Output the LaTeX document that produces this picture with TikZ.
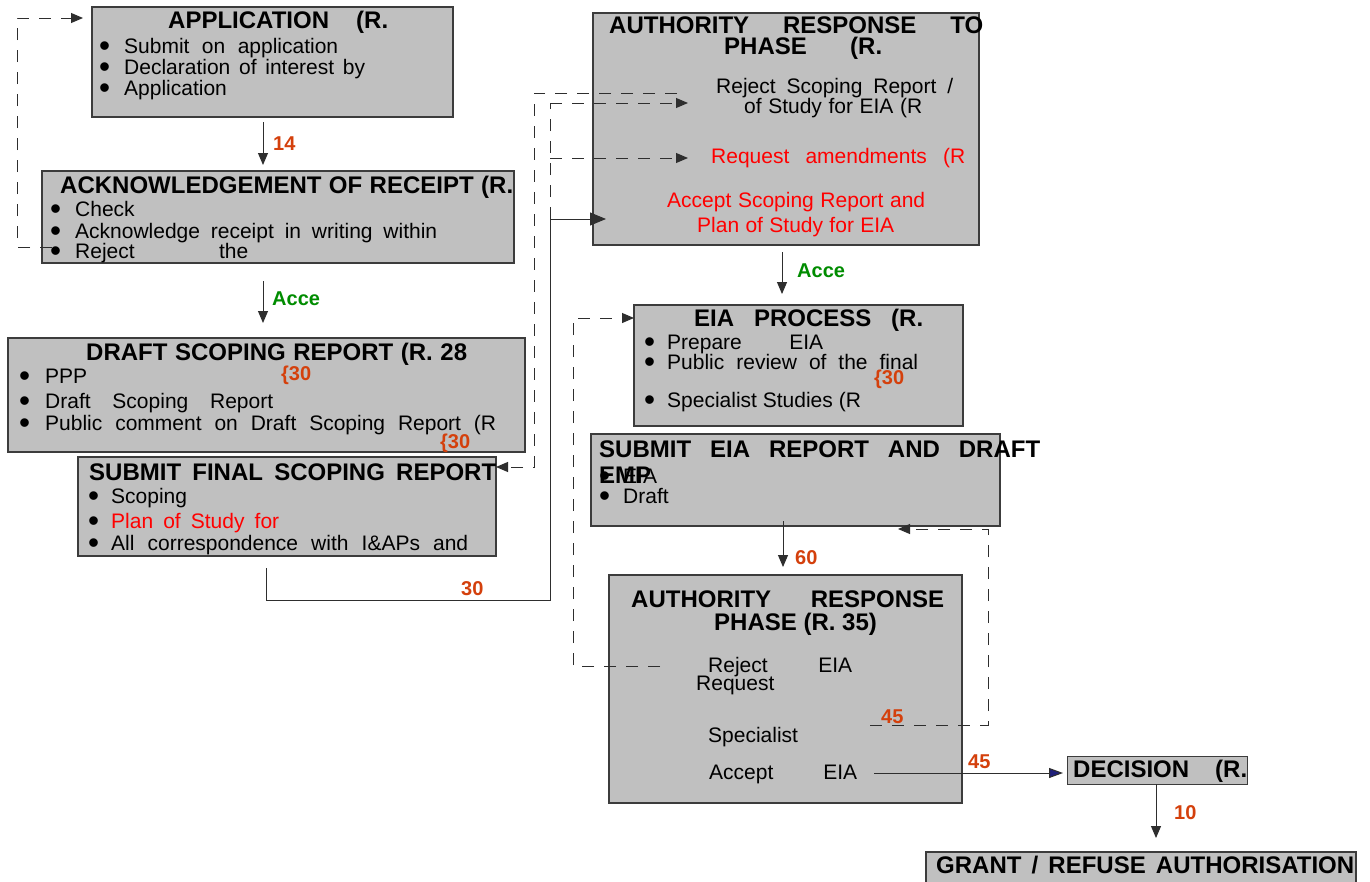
\documentclass[tikz,border=0pt]{standalone}
\usepackage{fontspec}
\usepackage{graphicx}
\setmainfont{Liberation Sans}
\usetikzlibrary{arrows.meta}
\definecolor{boxfill}{HTML}{C0C0C0}
\definecolor{boxline}{HTML}{3C3C3C}
\definecolor{lineclr}{HTML}{2E2E2E}
\definecolor{numclr}{HTML}{D4400C}
\definecolor{grnclr}{HTML}{008C00}
\definecolor{navyclr}{HTML}{1F1F7A}
\definecolor{redclr}{HTML}{FF0000}
\newcommand\jline[2]{\makebox[#1pt][s]{#2}}
\newcommand\bigbul{\raisebox{-3.5pt}{\scalebox{1.5}{\textbullet}}}
\begin{document}
\begin{tikzpicture}[x=1pt,y=-1pt,
  box/.style={draw=boxline, line width=1.4pt, fill=boxfill, inner sep=0pt, outer sep=0pt, anchor=north west},
  ttl/.style={font=\fontsize{24}{26}\selectfont\bfseries, inner sep=0pt, anchor=base west},
  bd/.style={font=\fontsize{21}{21}\selectfont, inner sep=0pt, anchor=base west},
  rd/.style={bd, text=redclr},
  lbl/.style={font=\fontsize{20}{20}\selectfont\bfseries, text=numclr, inner sep=0pt, anchor=base west},
  acc/.style={lbl, text=grnclr},
  conn/.style={draw=lineclr, line width=1pt},
  arr/.style={conn, -{Triangle[length=12pt,width=10pt]}},
  arrbig/.style={conn, -{Triangle[length=16pt,width=13pt]}},
  dsh/.style={conn, dash pattern=on 12pt off 10pt},
  darr/.style={dsh, -{Triangle[length=12pt,width=10pt]}},
]
\useasboundingbox (0,0) rectangle (1370,881);
\fill[white] (0,0) rectangle (1370,881);

% ---------- boxes ----------
\node[box, minimum width=361pt, minimum height=110pt] (app) at (92,7) {};
\node[box, minimum width=472pt, minimum height=92pt] (ack) at (42,171) {};
\node[box, minimum width=517pt, minimum height=114pt] (draft) at (8,338) {};
\node[box, minimum width=418pt, minimum height=99pt] (sfs) at (78,457) {};
\node[box, minimum width=386pt, minimum height=232pt] (ato) at (593,13) {};
\node[box, minimum width=329pt, minimum height=121pt] (eia) at (634,305) {};
\node[box, minimum width=409pt, minimum height=92pt] (sea) at (591,434) {};
\node[box, minimum width=353pt, minimum height=228pt] (arp) at (609,575) {};
\node[box, line width=1pt, minimum width=180pt, minimum height=28pt] (dec) at (1067,756) {};
\node[box, minimum width=430pt, minimum height=40pt] (grant) at (926,852) {};

% ---------- connectors ----------
\draw[arr] ([xshift=-9.5pt,yshift=-5pt]app.south) -- ([xshift=-15pt,yshift=6pt]ack.north);
\draw[arr] ([xshift=-15pt,yshift=-18pt]ack.south) -- ([xshift=-3.5pt,yshift=15pt]draft.north);
\draw[darr] ([xshift=10pt,yshift=-30pt]ack.west) -- ++(-35,0) |- ([xshift=-9pt,yshift=44pt]app.west);

\coordinate (ain) at ([xshift=13pt,yshift=-90pt]ato.west);
\draw[arrbig] ([xshift=-21pt,yshift=-12pt]sfs.south) -- ++(0,32) -- ++(284,0) coordinate (jb)
   -- (jb |- ain) coordinate (jc) -- (ain);
\draw[dsh] (jc) -- ++(0,-116) coordinate (jd);
\draw[darr] (jd) -- ++(138,0);
\draw[darr] ([yshift=-55pt]jd) -- ++(138,0);
\draw[darr] ([xshift=84pt,yshift=-80pt]ato.north west) -- ++(-143,0) |- ([yshift=39.5pt]sfs.east);

\draw[arr] ([xshift=-4pt,yshift=-7pt]ato.south) -- ([xshift=-16.5pt,yshift=11pt]eia.north);
\draw[darr] ([xshift=51pt,yshift=23pt]arp.west) -- ++(-87,0) |- ([yshift=47.5pt]eia.west);
\draw[arr] ([xshift=-12.5pt,yshift=5pt]sea.south) -- ([xshift=-2.5pt,yshift=8pt]arp.north);
\draw[darr] ([xshift=-92pt,yshift=-36pt]arp.east) -- ++(118,0) |- ([xshift=-102pt,yshift=-3pt]sea.south east);
\draw[conn, -{Triangle[length=14pt,width=10pt,fill=navyclr]}] ([xshift=-88pt,yshift=-84pt]arp.east) -- ([xshift=-4pt,yshift=-3pt]dec.west);
\draw[arr] ([xshift=-1pt]dec.south) -- ([xshift=15pt,yshift=14pt]grant.north);

% ---------- texts: APPLICATION ----------
\node[ttl] (tapp) at (168,28) {\jline{220}{APPLICATION (R.}};
\node[bd] (bapp1) at (99,53) {\bigbul};
\node[bd] (bapp2) at (99,74) {\bigbul};
\node[bd] (bapp3) at (99,95) {\bigbul};
\node[bd] (tapp1) at (124,53) {\jline{214}{Submit on application}};
\node[bd] (tapp2) at (124,74) {\jline{241}{Declaration of interest by}};
\node[bd] (tapp3) at (124,95) {Application};

% ACK
\node[ttl] (tack) at (60,193) {\jline{453}{ACKNOWLEDGEMENT OF RECEIPT (R.}};
\node[bd] (back1) at (50,216) {\bigbul};
\node[bd] (back2) at (50,238) {\bigbul};
\node[bd] (back3) at (50,258) {\bigbul};
\node[bd] (tack1) at (75,216) {Check};
\node[bd] (tack2) at (75,238) {\jline{362}{Acknowledge receipt in writing within}};
\node[bd] (tack3) at (75,258) {\jline{173}{Reject the}};

% DRAFT
\node[ttl] (tdr) at (86,360) {\jline{381}{DRAFT SCOPING REPORT (R. 28}};
\node[bd] (bdr1) at (19,383) {\bigbul};
\node[bd] (bdr2) at (19,408) {\bigbul};
\node[bd] (bdr3) at (19,430) {\bigbul};
\node[bd] (tdr1) at (45,383) {PPP};
\node[bd] (tdr2) at (45,408) {\jline{228}{Draft Scoping Report}};
\node[bd] (tdr3) at (45,430) {\jline{451}{Public comment on Draft Scoping Report (R}};
\node[lbl] (l30a) at (281,380) {\{30};
\node[lbl] (l30b) at (440,448) {\{30};

% SUBMIT FINAL
\node[ttl] (tsf) at (89,480) {\jline{407}{SUBMIT FINAL SCOPING REPORT}};
\node[bd] (bsf1) at (88,503) {\bigbul};
\node[bd] (bsf2) at (88,528) {\bigbul};
\node[bd] (bsf3) at (88,550) {\bigbul};
\node[bd] (tsf1) at (111,503) {Scoping};
\node[rd] (tsf2) at (111,528) {\jline{168}{Plan of Study for}};
\node[bd] (tsf3) at (111,550) {\jline{357}{All correspondence with I\&APs and}};
\node[lbl] (l30c) at (461,595) {30};

% AUTHORITY RESPONSE TO PHASE
\node[ttl] (tato1) at (609,33) {\jline{374}{AUTHORITY RESPONSE TO}};
\node[ttl] (tato2) at (724,54) {\jline{158}{PHASE (R.}};
\node[bd] (tato3) at (716,93) {\jline{237}{Reject Scoping Report /}};
\node[bd] (tato4) at (744,113) {\jline{178}{of Study for EIA (R}};
\node[rd] (tato5) at (711,163) {\jline{254}{Request amendments (R}};
\node[rd] (tato6) at (667,207) {\jline{258}{Accept Scoping Report and}};
\node[rd] (tato7) at (697,232) {\jline{197}{Plan of Study for EIA}};

\node[lbl] (l14) at (273,150) {14};
\node[acc] (lacc1) at (272,305) {Acce};
\node[acc] (lacc2) at (797,277) {Acce};

% EIA PROCESS
\node[ttl] (teia) at (694,326) {\jline{229}{EIA PROCESS (R.}};
\node[bd] (beia1) at (644,349) {\bigbul};
\node[bd] (beia2) at (644,369) {\bigbul};
\node[bd] (beia3) at (644,407) {\bigbul};
\node[bd] (teia1) at (667,349) {\jline{156}{Prepare EIA}};
\node[bd] (teia2) at (667,369) {\jline{251}{Public review of the final}};
\node[bd] (teia3) at (667,407) {Specialist Studies (R};
\node[lbl] (l30d) at (874,384) {\{30};

% SUBMIT EIA REPORT
\node[ttl] (tsea) at (599,457) {\jline{441}{SUBMIT EIA REPORT AND DRAFT}};
\node[bd] (bsea1) at (599,483) {\bigbul};
\node[bd] (tsea1) at (623,483) {EIA};
\node[ttl] (tsea2) at (599,483) {EMP};
\node[bd] (bsea2) at (599,503) {\bigbul};
\node[bd] (tsea3) at (623,503) {Draft};
\node[lbl] (l60) at (795,564) {60};

% AUTHORITY RESPONSE PHASE 35
\node[ttl] (tarp1) at (631,607) {\jline{313}{AUTHORITY RESPONSE}};
\node[ttl] (tarp2) at (714,630) {PHASE (R. 35)};
\node[bd] (tarp3) at (708,672) {\jline{144}{Reject EIA}};
\node[bd] (tarp4) at (696,690) {Request};
\node[bd] (tarp5) at (708,742) {Specialist};
\node[bd] (tarp6) at (709,779) {\jline{148}{Accept EIA}};
\node[lbl] (l45a) at (881,723) {45};
\node[lbl] (l45b) at (968,768) {45};

% DECISION / GRANT
\node[ttl] (tdec) at (1073,777) {\jline{174}{DECISION (R.}};
\node[lbl] (l10) at (1174,819) {10};
\node[ttl] (tgr) at (936,873) {\jline{418}{GRANT / REFUSE AUTHORISATION}};
\end{tikzpicture}
\end{document}
